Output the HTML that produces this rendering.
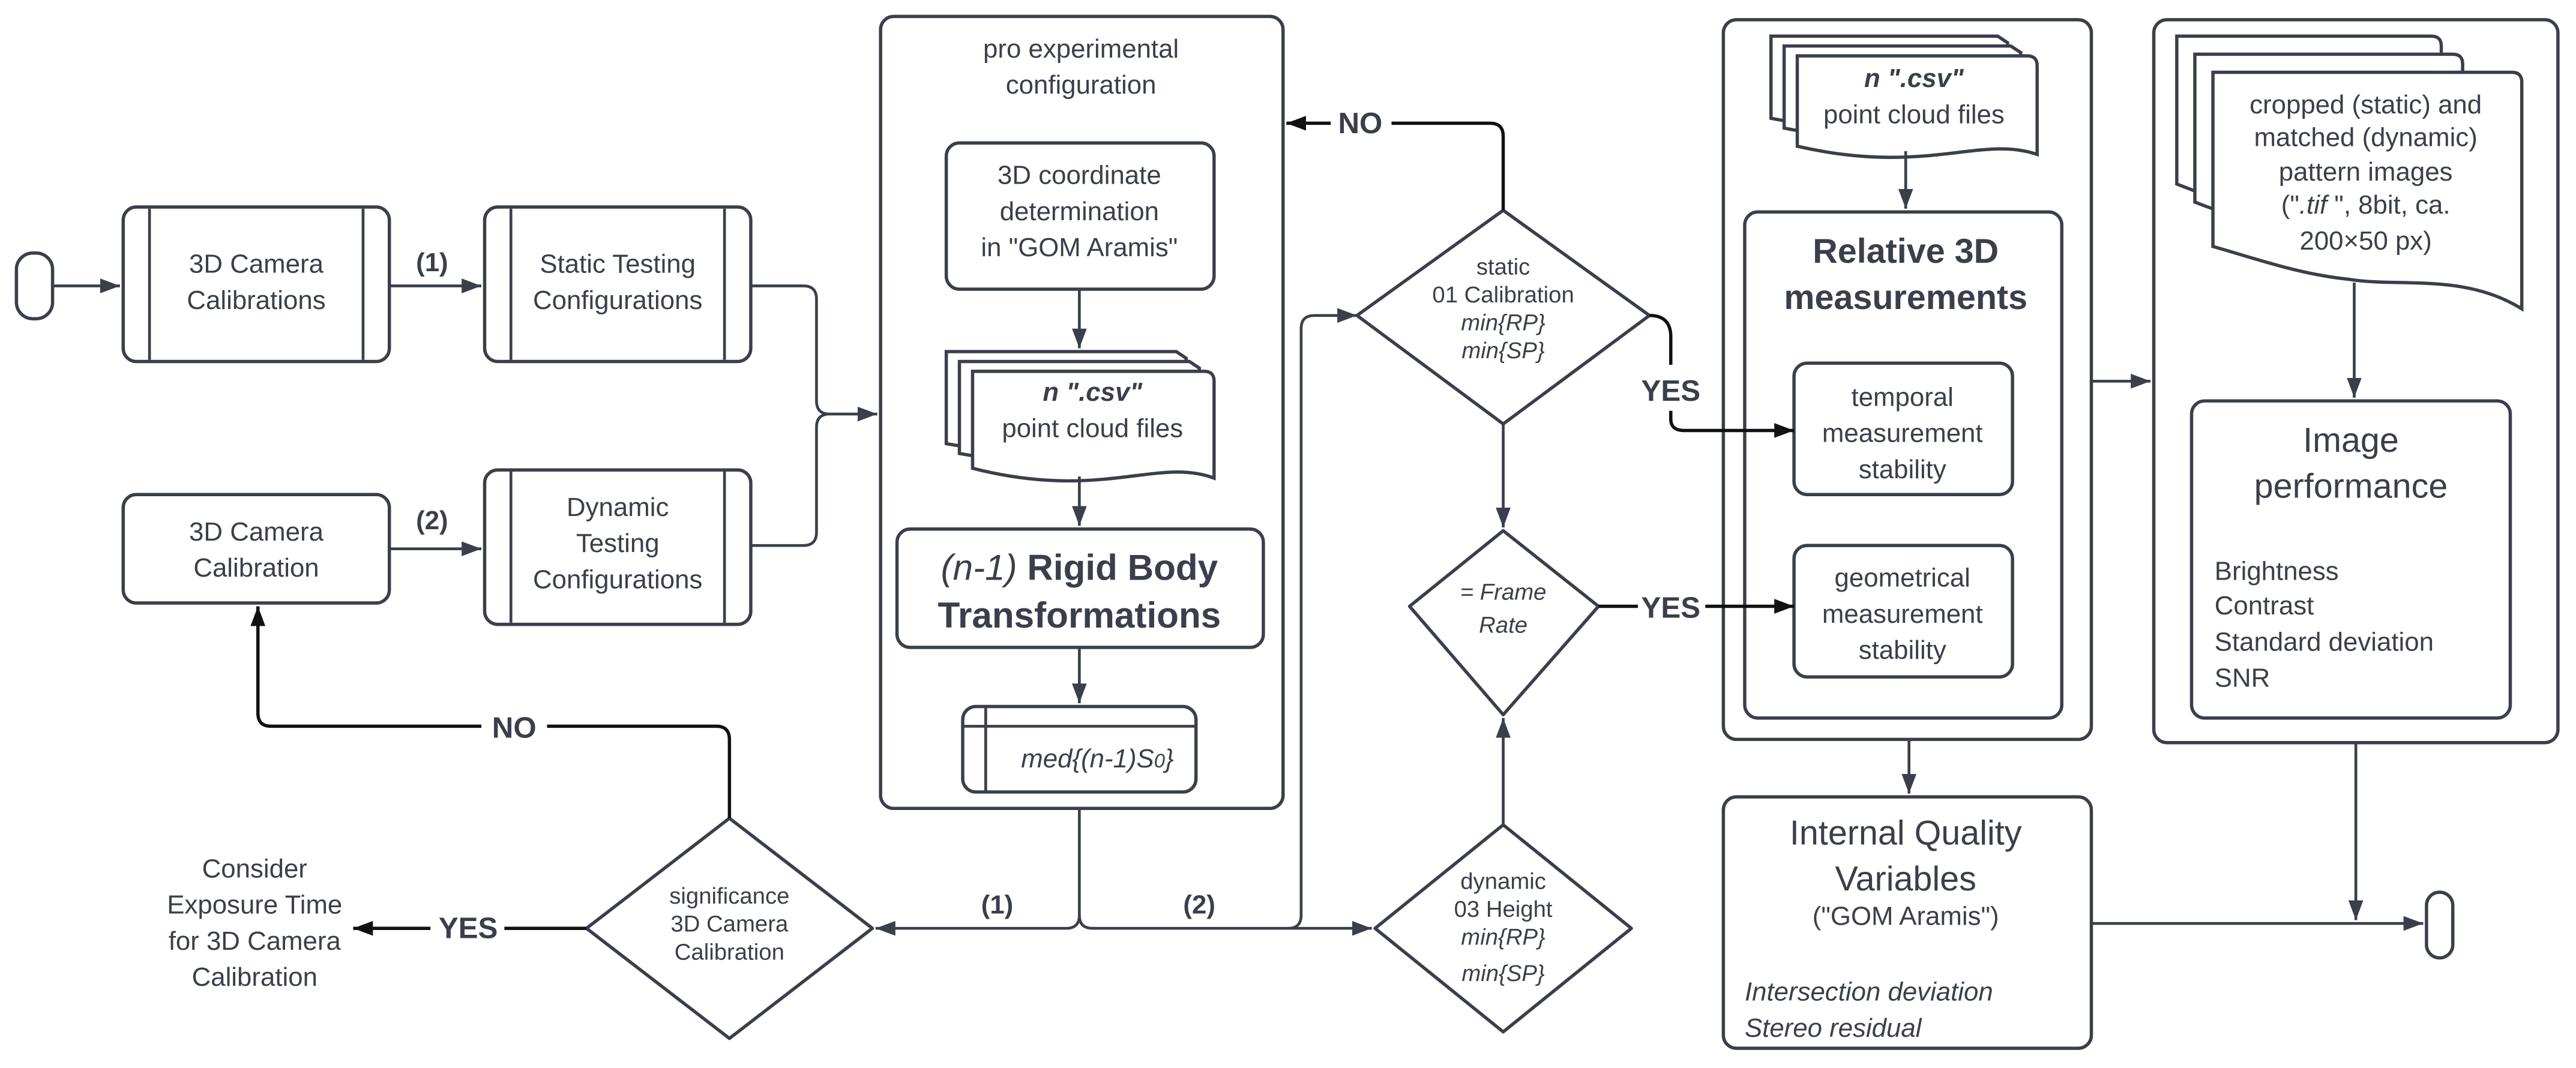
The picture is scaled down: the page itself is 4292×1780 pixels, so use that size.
<!DOCTYPE html>
<html><head><meta charset="utf-8"><style>
html,body{margin:0;padding:0;background:#fff;}
svg{display:block;}
text{font-family:"Liberation Sans",sans-serif;fill:#3a3f4b;}
</style></head><body>
<svg width="4292" height="1780" viewBox="0 0 1568 650" preserveAspectRatio="none" xmlns="http://www.w3.org/2000/svg">
<defs>
<marker id="a" viewBox="0 0 12 9" refX="12" refY="4.5" markerWidth="12" markerHeight="9" markerUnits="userSpaceOnUse" orient="auto"><path d="M0,0 L12,4.5 L0,9 z" fill="#3a3f4b"/></marker>
<marker id="ab" viewBox="0 0 12 9" refX="12" refY="4.5" markerWidth="12" markerHeight="9" markerUnits="userSpaceOnUse" orient="auto"><path d="M0,0 L12,4.5 L0,9 z" fill="#111"/></marker>
</defs>
<style>
.s{fill:#fff;stroke:#3a3f4b;stroke-width:2;}
.l{fill:none;stroke:#3a3f4b;stroke-width:1.7;}
.k{fill:none;stroke:#111;stroke-width:2;}
.t{font-size:16px;text-anchor:middle;}
.b{font-weight:bold;}
.i{font-style:italic;}
</style>
<!-- start terminal -->
<rect class="s" x="10" y="154" width="22" height="40" rx="10"/>
<line class="l" x1="32" y1="174" x2="73" y2="174" marker-end="url(#a)"/>
<!-- Box A -->
<rect class="s" x="75" y="126" width="162" height="94" rx="8"/>
<line class="l" x1="91" y1="127" x2="91" y2="219" stroke-width="2"/><line class="l" x1="221" y1="127" x2="221" y2="219" stroke-width="2"/>
<text class="t" x="156" y="166">3D Camera</text><text class="t" x="156" y="188">Calibrations</text>
<line class="l" x1="237" y1="174" x2="293" y2="174" marker-end="url(#a)"/>
<text class="t b" x="263" y="165">(1)</text>
<!-- Box B -->
<rect class="s" x="295" y="126" width="162" height="94" rx="8"/>
<line class="l" x1="311" y1="127" x2="311" y2="219" stroke-width="2"/><line class="l" x1="441" y1="127" x2="441" y2="219" stroke-width="2"/>
<text class="t" x="376" y="166">Static Testing</text><text class="t" x="376" y="188">Configurations</text>
<!-- Box C -->
<rect class="s" x="75" y="301" width="162" height="66" rx="8"/>
<text class="t" x="156" y="329">3D Camera</text><text class="t" x="156" y="351">Calibration</text>
<line class="l" x1="237" y1="334" x2="293" y2="334" marker-end="url(#a)"/>
<text class="t b" x="263" y="322">(2)</text>
<!-- Box D -->
<rect class="s" x="295" y="286" width="162" height="94" rx="8"/>
<line class="l" x1="311" y1="287" x2="311" y2="379" stroke-width="2"/><line class="l" x1="441" y1="287" x2="441" y2="379" stroke-width="2"/>
<text class="t" x="376" y="314">Dynamic</text><text class="t" x="376" y="336">Testing</text><text class="t" x="376" y="358">Configurations</text>
<!-- merge -->
<path class="l" d="M457,174 H489 Q497,174 497,182 V244 Q497,252 505,252 H534" marker-end="url(#a)"/>
<path class="l" d="M457,332 H489 Q497,332 497,324 V260 Q497,252 505,252"/>
<!-- Container P -->
<rect class="s" x="536" y="10" width="245" height="482" rx="8"/>
<text class="t" x="658" y="35">pro experimental</text><text class="t" x="658" y="57">configuration</text>
<rect class="s" x="576" y="87" width="163" height="89" rx="8"/>
<text class="t" x="657" y="112">3D coordinate</text><text class="t" x="657" y="134">determination</text><text class="t" x="657" y="156">in "GOM Aramis"</text>
<line class="l" x1="657" y1="176" x2="657" y2="212" marker-end="url(#a)"/>
<path class="s" d="M576,214 H716 L722,218 V270 C690,262 660,285 576,270 Z"/>
<path class="s" d="M584,220 H724 L730,224 V276 C698,268 668,291 584,276 Z"/>
<path class="s" d="M592,226 H733 Q739,226 739,232 V291 C705,278 670,305 592,285 Z"/>
<text class="t b i" x="665" y="244">n ".csv"</text><text class="t" x="665" y="266">point cloud files</text>
<line class="l" x1="657" y1="290" x2="657" y2="320" marker-end="url(#a)"/>
<rect class="s" x="546" y="322" width="223" height="72" rx="8"/>
<text class="t" x="657" y="353" style="font-size:22px"><tspan class="i">(n-1) </tspan><tspan class="b">Rigid Body</tspan></text>
<text class="t b" x="657" y="382" style="font-size:22px">Transformations</text>
<line class="l" x1="657" y1="394" x2="657" y2="428" marker-end="url(#a)"/>
<rect class="s" x="586" y="430" width="142" height="52" rx="8"/>
<line class="l" x1="586" y1="442" x2="728" y2="442" stroke-width="2"/><line class="l" x1="600" y1="430" x2="600" y2="482" stroke-width="2"/>
<text class="t i" x="668" y="467">med{(n-1)S<tspan style="font-size:12px">0</tspan>}</text>
<!-- bottom branches -->
<path class="l" d="M657,492 V557 Q657,565 649,565 H533" marker-end="url(#a)"/>
<text class="t b" x="607" y="556">(1)</text>
<path class="l" d="M657,557 Q657,565 665,565 H835" marker-end="url(#a)"/>
<text class="t b" x="730" y="556">(2)</text>
<path class="l" d="M784,565 Q792,565 792,557 V200 Q792,192 800,192 H826" marker-end="url(#a)"/>
<!-- Diamond static -->
<polygon class="s" points="915,128 1004,192 915,258 826,192" stroke-linejoin="round"/>
<text class="t" x="915" y="167" style="font-size:14px">static</text><text class="t" x="915" y="184" style="font-size:14px">01 Calibration</text>
<text class="t i" x="915" y="201" style="font-size:14px">min{RP}</text><text class="t i" x="915" y="218" style="font-size:14px">min{SP}</text>
<path class="k" d="M915,128 V83 Q915,75 907,75 H847"/>
<line class="k" x1="810" y1="75" x2="783" y2="75" marker-end="url(#ab)"/>
<text class="t b" x="828" y="81" style="font-size:18px;fill:#3a3f4b">NO</text>
<line class="l" x1="915" y1="258" x2="915" y2="321" marker-end="url(#a)"/>
<!-- Frame rate -->
<polygon class="s" points="915,323 973,369 915,435 858,369" stroke-linejoin="round"/>
<text class="t i" x="915" y="365" style="font-size:14px">= Frame</text><text class="t i" x="915" y="385" style="font-size:14px">Rate</text>
<!-- dynamic -->
<polygon class="s" points="915,502 993,565 915,628 837,565" stroke-linejoin="round"/>
<text class="t" x="915" y="541" style="font-size:14px">dynamic</text><text class="t" x="915" y="558" style="font-size:14px">03 Height</text>
<text class="t i" x="915" y="575" style="font-size:14px">min{RP}</text><text class="t i" x="915" y="597" style="font-size:14px">min{SP}</text>
<line class="l" x1="915" y1="502" x2="915" y2="437" marker-end="url(#a)"/>
<!-- significance -->
<polygon class="s" points="444,498 531,565 444,632 357,565" stroke="#111" stroke-linejoin="round"/>
<text class="t" x="444" y="550" style="font-size:14px">significance</text><text class="t" x="444" y="567" style="font-size:14px">3D Camera</text><text class="t" x="444" y="584" style="font-size:14px">Calibration</text>
<path class="k" d="M444,498 V450 Q444,442 436,442 H333"/>
<path class="k" d="M293,442 H165 Q157,442 157,434 V369" marker-end="url(#ab)"/>
<text class="t b" x="313" y="449" style="font-size:18px">NO</text>
<line class="k" x1="357" y1="565" x2="307" y2="565"/>
<line class="k" x1="262" y1="565" x2="215" y2="565" marker-end="url(#ab)"/>
<text class="t b" x="285" y="571" style="font-size:18px">YES</text>
<text class="t" x="155" y="534">Consider</text><text class="t" x="155" y="556">Exposure Time</text><text class="t" x="155" y="578">for 3D Camera</text><text class="t" x="155" y="600">Calibration</text>
<!-- Container R -->
<rect class="s" x="1049" y="12" width="224" height="438" rx="8"/>
<path class="s" d="M1078,22 H1216 L1222,26 V74 C1190,66 1160,88 1078,72 Z"/>
<path class="s" d="M1086,28 H1224 L1230,32 V80 C1198,72 1168,94 1086,78 Z"/>
<path class="s" d="M1094,34 H1234 Q1240,34 1240,40 V94 C1206,82 1172,107 1094,89 Z"/>
<text class="t b i" x="1165" y="53">n ".csv"</text><text class="t" x="1165" y="75">point cloud files</text>
<line class="l" x1="1160" y1="92" x2="1160" y2="127" marker-end="url(#a)"/>
<rect class="s" x="1062" y="129" width="193" height="308" rx="8"/>
<text class="t b" x="1160" y="160" style="font-size:21px">Relative 3D</text><text class="t b" x="1160" y="188" style="font-size:21px">measurements</text>
<rect class="s" x="1092" y="221" width="133" height="80" rx="8"/>
<text class="t" x="1158" y="247">temporal</text><text class="t" x="1158" y="269">measurement</text><text class="t" x="1158" y="291">stability</text>
<rect class="s" x="1092" y="332" width="133" height="80" rx="8"/>
<text class="t" x="1158" y="357">geometrical</text><text class="t" x="1158" y="379">measurement</text><text class="t" x="1158" y="401">stability</text>
<!-- YES connectors (drawn over container) -->
<path class="k" d="M1004,192 Q1017,192 1017,205 V222"/>
<path class="k" d="M1017,250 V255 Q1017,262 1025,262 H1092" marker-end="url(#ab)"/>
<text class="t b" x="1017" y="244" style="font-size:18px">YES</text>
<line class="k" x1="973" y1="369" x2="997" y2="369"/>
<line class="k" x1="1038" y1="369" x2="1092" y2="369" marker-end="url(#ab)"/>
<text class="t b" x="1017" y="376" style="font-size:18px">YES</text>
<line class="l" x1="1273" y1="232" x2="1309" y2="232" marker-end="url(#a)"/>
<!-- Container S -->
<rect class="s" x="1311" y="12" width="246" height="440" rx="8"/>
<path class="s" d="M1325,22 H1480 Q1486,22 1486,28 V130 C1450,120 1420,150 1325,112 Z"/>
<path class="s" d="M1336,33 H1493 Q1499,33 1499,39 V141 C1463,131 1433,161 1336,123 Z"/>
<path class="s" d="M1347,44 H1529 Q1535,44 1535,50 V188 C1500,166 1460,175 1430,170 C1400,167 1375,158 1347,150 Z"/>
<text class="t" x="1440" y="69">cropped (static) and</text><text class="t" x="1440" y="89">matched  (dynamic)</text>
<text class="t" x="1440" y="110">pattern images</text><text class="t" x="1440" y="130">("<tspan class="i">.tif</tspan> ", 8bit, ca.</text><text class="t" x="1440" y="152">200×50 px)</text>
<line class="l" x1="1433" y1="172" x2="1433" y2="242" marker-end="url(#a)"/>
<rect class="s" x="1334" y="244" width="194" height="193" rx="8"/>
<text class="t" x="1431" y="275" style="font-size:21px">Image</text><text class="t" x="1431" y="303" style="font-size:21px">performance</text>
<text x="1348" y="353" style="font-size:16px">Brightness</text><text x="1348" y="374" style="font-size:16px">Contrast</text>
<text x="1348" y="396" style="font-size:16px">Standard deviation</text><text x="1348" y="418" style="font-size:16px">SNR</text>
<!-- IQV -->
<line class="l" x1="1162" y1="450" x2="1162" y2="483" marker-end="url(#a)"/>
<rect class="s" x="1049" y="485" width="224" height="153" rx="8"/>
<text class="t" x="1160" y="514" style="font-size:21px">Internal Quality</text><text class="t" x="1160" y="542" style="font-size:21px">Variables</text>
<text class="t" x="1160" y="563">("GOM Aramis")</text>
<text class="i" x="1062" y="609" style="font-size:16px">Intersection deviation</text><text class="i" x="1062" y="631" style="font-size:16px">Stereo residual</text>
<line class="l" x1="1273" y1="562" x2="1475" y2="562" marker-end="url(#a)"/>
<line class="l" x1="1434" y1="452" x2="1434" y2="560" marker-end="url(#a)"/>
<rect class="s" x="1477" y="543" width="16" height="40" rx="8"/>
</svg>
</body></html>
